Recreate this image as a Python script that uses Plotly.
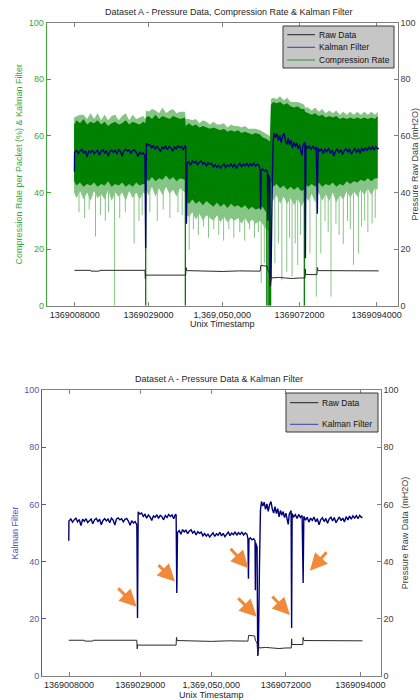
import numpy as np
import plotly.graph_objects as go

# ---------------- data (time in kiloseconds after T0) ----------------
T0 = 1369000000

kal_t = [7.9, 7.95,
         8.5, 9.0, 9.5, 10.0, 10.5, 11.0, 11.5, 12.0, 12.5, 13.0, 13.5, 14.0, 14.5, 15.0, 15.5, 16.0, 16.5, 17.0, 17.5, 18.0,
         18.5, 19.0, 19.5, 20.0, 20.5, 21.0, 21.5, 22.0, 22.5, 23.0, 23.5, 24.0, 24.5, 25.0, 25.5, 26.0, 26.5, 27.0, 27.5, 28.0,
         28.2,
         28.4, 28.9, 29.4, 29.9, 30.4, 30.9, 31.4, 31.9, 32.4, 32.9, 33.4, 33.9, 34.4, 34.9, 35.4, 35.9, 36.4, 36.9, 37.4, 37.9,
         38.4, 38.9, 39.4, 39.6,
         39.8,
         40.0, 40.5, 41.0, 41.5, 42.0, 42.5, 43.0, 43.5, 44.0, 44.5, 45.0, 45.5, 46.0, 46.5, 47.0, 47.5, 48.0, 48.5, 49.0, 49.5,
         50.0, 50.5, 51.0, 51.5, 52.0, 52.5, 53.0, 53.5, 54.0, 54.5, 55.0, 55.5, 56.0, 56.5, 57.0, 57.5, 58.0, 58.5, 59.0, 59.5,
         60.0, 60.5,
         60.8, 60.95, 61.1, 61.5, 62.0, 62.5, 62.9, 63.0, 63.1, 63.5, 63.7, 63.9, 64.2, 64.5, 64.8,
         65.2, 65.6, 66.0, 66.4, 66.8, 67.2, 67.6, 68.0, 68.4, 68.8, 69.2, 69.6, 70.0, 70.4, 70.8, 71.2, 71.6, 72.0, 72.4, 72.7,
         73.0, 73.3, 73.55, 73.7,
         73.85, 74.3, 74.8, 75.3, 75.8, 76.3, 76.8, 77.1, 77.3, 77.8, 78.3, 78.8, 79.3, 79.8, 80.3, 80.8, 81.3, 81.8, 82.3, 82.8,
         83.3, 83.8, 84.3, 84.8, 85.3, 85.8, 86.3, 86.8, 87.3, 87.8, 88.3, 88.8, 89.3, 89.8, 90.3, 90.8, 91.3, 91.8, 92.3, 92.8,
         93.3, 93.8, 94.3, 94.6]
kal_v = [47.3, 54.2,
         54.9, 53.8, 54.6, 55.2, 53.9, 54.7, 52.6, 54.8, 54.1, 55.0, 53.7, 54.5, 54.9, 53.2, 54.6, 55.1, 54.0, 54.8, 52.9, 54.4,
         55.0, 54.2, 54.9, 53.6, 55.2, 54.5, 52.8, 54.9, 55.3, 54.6, 55.0, 53.9, 54.8, 55.1, 54.2, 52.7, 54.3, 53.5, 54.0, 52.8,
         20.3,
         57.4, 56.6, 57.0, 55.8, 56.5, 55.2, 56.3, 55.6, 54.4, 56.0, 55.5, 56.4, 55.1, 56.2, 55.7, 54.6, 56.1, 55.4, 56.5, 55.8,
         56.3, 55.0, 56.6, 56.2,
         29.0,
         50.2, 50.9, 49.6, 51.2, 50.4, 51.0, 49.8, 50.7, 51.1, 50.0, 50.6, 49.3, 50.5, 49.9, 50.3, 49.0, 49.8, 48.9, 49.6, 48.6,
         49.4, 50.1, 48.8, 49.7, 49.2, 50.2, 49.0, 49.9, 48.7, 49.6, 50.3, 49.1, 50.0, 49.4, 50.4, 49.2, 50.1, 49.5, 50.3, 49.3,
         50.0, 49.6,
         48.0, 34.0, 47.8, 48.3, 47.6, 48.0, 47.2, 30.0, 46.5, 45.0, 7.0, 9.5, 38.0, 58.0, 61.0,
         59.4, 60.8, 58.3, 60.2, 57.6, 59.9, 61.0, 58.4, 57.0, 59.2, 56.8, 58.5, 55.6, 57.9, 56.2, 57.5, 55.4, 56.9, 54.8, 53.0,
         56.6, 57.4, 57.8, 16.8,
         56.8, 55.6, 56.4, 55.1, 56.5, 55.4, 56.1, 32.5, 55.8, 54.5, 55.5, 53.8, 55.2, 54.4, 55.6, 53.9, 55.0, 52.9, 54.7, 55.3,
         54.0, 55.1, 53.4, 54.9, 55.5, 54.2, 55.4, 53.6, 54.8, 55.6, 54.3, 55.2, 53.9, 55.7, 54.6, 55.9, 54.8, 56.0, 55.2, 56.1,
         55.0, 56.2, 55.4, 55.7]

raw_t = [7.9, 12.5, 12.6, 15.0, 15.1, 28.0, 28.1, 28.25, 28.4, 39.6, 39.7, 39.9, 45.0, 50.0, 55.0, 60.8, 61.0,
         62.8, 63.0, 63.5, 63.7, 63.9, 64.2, 66.0, 68.0, 70.0, 72.0, 73.6, 73.7, 73.8, 77.0, 77.1, 77.3, 94.6]
raw_v = [12.5, 12.5, 12.2, 12.2, 12.5, 12.5, 9.5, 11.0, 10.8, 10.8, 13.5, 12.4, 12.3, 12.1, 12.3, 12.2, 14.2,
         14.0, 12.5, 11.5, 7.4, 10.5, 9.8, 10.0, 9.8, 9.6, 9.8, 9.8, 13.0, 11.0, 11.0, 13.5, 12.4, 12.3]

# compression rate: dense band (lo/hi) and a thin outer envelope
comp_t = [7.8, 8.5, 9.5, 10.5, 11.5, 12.5, 13.5, 14.5, 15.5, 16.5, 17.5, 18.5, 19.5, 20.5, 21.5, 22.5, 23.5, 24.5,
          25.5, 26.5, 27.5, 28.1,
          28.3, 29.0, 30.0, 31.0, 32.0, 33.0, 34.0, 35.0, 36.0, 37.0, 38.0, 39.4,
          39.6, 40.5, 41.5, 42.5, 43.5, 44.5, 45.5, 46.5, 47.5, 48.5, 49.5, 50.5, 51.5, 52.5, 53.5, 54.5, 55.5, 56.5,
          57.5, 58.5, 59.5, 60.8,
          61.5, 62.5, 63.6,
          63.9, 64.5, 65.5, 66.5, 67.5, 68.5, 69.5, 70.5, 71.5, 72.5, 73.4,
          73.6, 74.5, 75.5, 76.5, 77.5, 78.5, 79.5, 80.5, 81.5, 82.5, 83.5, 84.5, 85.5, 86.5, 87.5, 88.5, 89.5, 90.5,
          91.5, 92.5, 93.5, 94.3]
comp_lo = [44, 42.5, 43.5, 42, 43, 42.5, 43.5, 42, 43, 42.5, 44, 42, 43, 42.5, 43.5, 42, 43, 42,
           43.5, 42.5, 43, 43,
           45, 44, 45.5, 44, 45, 44.5, 46, 44.5, 45.5, 44, 45, 44.5,
           37, 36, 37.5, 36, 37, 35.5, 37, 36, 35, 36.5, 35, 36, 34.5, 36, 35, 35.5, 34.5, 35.5,
           34, 35, 34, 34.5,
           35, 33, 32,
           44, 42, 43, 41.5, 42.5, 41, 42, 41, 42, 40.5, 41,
           43, 42, 43, 42, 43.5, 42, 43, 42.5, 43.5, 42, 43, 42.5, 44, 43, 44, 43.5, 44.5, 44,
           45, 44, 45, 45]
comp_hi = [64, 65.5, 64.5, 66, 64, 65, 64.5, 65.5, 64, 65, 63.5, 64.5, 65, 64, 64.5, 65.5, 64, 65,
           64.5, 64, 65, 64.5,
           66.5, 67, 66, 67.5, 66, 67, 66.5, 66, 67, 66.5, 66, 66.5,
           63.5, 64.5, 63.5, 64, 63, 63.5, 63, 62.5, 63, 62.5, 62, 62.5, 61.5, 62, 61.5, 62, 61, 61.5,
           61, 60.5, 61, 60.5,
           59.5, 59, 58,
           71, 72, 71.5, 72, 71, 71.5, 70.5, 70, 70.5, 69.5, 69.5,
           68.5, 68, 67.5, 68, 67, 67.5, 66.5, 67, 66.5, 67, 66, 66.5, 66, 66.5, 66, 66.5, 66, 66.5,
           66, 66.5, 66, 67]
comp_lo_out = [40, 38, 40.5, 37.5, 40, 37, 40.5, 38, 39.5, 37.5, 41, 37, 40, 38.5, 40, 37, 40.5, 38,
               40, 37.5, 40, 39.5,
               41, 39, 42, 38.5, 41.5, 39, 42, 39.5, 41, 38.5, 41.5, 40,
               32, 31.5, 33, 30.5, 32.5, 30, 32, 31, 30, 32, 29.5, 31.5, 29.5, 31, 30, 31, 29, 31,
               29, 30.5, 29, 30,
               29, 27, 26,
               40, 37, 39, 36, 38.5, 36, 38, 35.5, 38, 35, 37,
               39, 37, 39.5, 36.5, 40, 37, 39.5, 37, 40, 36.5, 39, 37.5, 40.5, 38, 40.5, 38.5, 41, 39,
               41.5, 39, 41.5, 41]
comp_hi_out = [66.5, 67, 67.5, 67.5, 66, 68, 66, 68, 65.5, 67.5, 65.5, 67, 67.5, 65.5, 67, 68, 65.5, 67.5,
               66, 66.5, 67, 66,
               69, 68.5, 69.5, 69, 68, 70, 68, 69, 69.5, 68, 68.5, 68.5,
               66, 66, 65.5, 66, 64.5, 65.5, 65, 64, 65, 64, 64, 64.5, 63, 64, 63.5, 63.5, 63, 63.5,
               62.5, 62.5, 62.5, 62,
               61.5, 60.5, 60,
               73, 73.5, 73, 74, 72.5, 73.5, 72, 72, 72, 71.5, 71,
               70, 70, 69, 70, 68.5, 69.5, 68, 69, 68, 69, 67.5, 68.5, 67.5, 68.5, 67.5, 68.5, 67.5, 68.5,
               67.5, 68.5, 67.5, 68.5]

# individual downward excursions of the compression rate
spike_t = [9.2, 10.8, 12.1, 13.9, 15.3, 16.7, 17.6, 19.3, 20.8, 22.4, 24.9, 26.3, 27.2,
           29.4, 31.5, 33.2, 35.1, 37.4, 38.6,
           40.6, 41.8, 43.2, 44.7, 46.1, 47.6, 49.0, 50.4, 51.9, 53.3, 55.0, 56.4, 57.8, 59.2, 60.3,
           61.1, 62.0,
           65.0, 66.0, 67.0, 68.4, 69.2, 69.9, 70.8, 71.5, 72.3,
           75.0, 76.8, 78.1, 79.3, 80.2, 81.0, 82.4, 83.3, 84.5, 85.7, 86.5, 87.4, 88.8, 89.7, 90.6,
           91.5, 92.7, 93.6]
spike_min = [33, 31, 34, 24.4, 32, 30, 33, 0, 31, 33, 22, 30, 32,
             33, 30, 34, 31, 33, 32,
             19.7, 27, 25, 28, 24, 27, 25, 23, 27, 24, 26, 23, 27, 24, 26,
             8, 15,
             15, 22, 9, 12, 24, 10.3, 22, 14.4, 25,
             18.5, 3.2, 18.5, 30, 26, 3.2, 29, 25, 21.8, 30, 27, 14.4, 18.5, 28, 30,
             26, 29, 31]
drop_t = [28.2, 39.5, 62.7, 63.1, 63.5, 63.8, 73.4]
drop_min = [0, 0, 0, 0, 0, 0, 0]

x_ticks = [1369008000, 1369029000, 1369050000, 1369072000, 1369094000]
x_tick_text = ["1369008000", "1369029000", "1,369,050,000", "1369072000", "1369094000"]
y_ticks = [0, 20, 40, 60, 80, 100]

# arrows marking the filter dips (head position, tail offset in px)
arrow_t = [27.96, 39.27, 60.9, 63.4, 73.2, 79.1]
arrow_v = [24.2, 33.0, 37.7, 20.7, 21.3, 36.8]
arrow_dx = [-20, -18, -19, -20, -19, 18]
arrow_dy = [-20, -18, -21, -20, -20, -20]

legend_top_names = ["Raw Data", "Kalman Filter", "Compression Rate"]
legend_bot_names = ["Raw Data", "Kalman Filter"]

# ---------------- figure ----------------
def ts(k):
    return T0 + np.asarray(k, dtype=float) * 1000.0

FONT = "Liberation Sans, Arial, Helvetica, sans-serif"
W, H = 420, 700
GREEN_DARK = "#008000"
GREEN_LIGHT = "#86c586"
GREEN_AX = "#3aa83a"
NAVY = "#00007a"
BLUE_AX = "#5656b0"
RAW = "#2a2a2a"
GRAY_AX = "#808080"
TXT = "#262626"

def PX(x):
    return x / W

def PY(y):
    return 1 - y / H

fig = go.Figure()

ct = ts(comp_t)
hi_o, lo_o = np.array(comp_hi_out), np.array(comp_lo_out)
hi_i, lo_i = np.array(comp_hi), np.array(comp_lo)

fig.add_trace(go.Scatter(x=np.concatenate([ct, ct[::-1]]), y=np.concatenate([hi_o, lo_o[::-1]]),
                         fill="toself", fillcolor=GREEN_LIGHT, line=dict(width=0), mode="lines",
                         hoverinfo="skip", showlegend=False, xaxis="x", yaxis="y"))
sx, sy = [], []
for t, m in zip(spike_t, spike_min):
    sx += [ts(t), ts(t), None]
    sy += [50, m, None]
fig.add_trace(go.Scatter(x=sx, y=sy, mode="lines", line=dict(color=GREEN_LIGHT, width=1),
                         hoverinfo="skip", showlegend=False, xaxis="x", yaxis="y"))
fig.add_trace(go.Scatter(x=np.concatenate([ct, ct[::-1]]), y=np.concatenate([hi_i, lo_i[::-1]]),
                         fill="toself", fillcolor=GREEN_DARK, line=dict(width=0), mode="lines",
                         hoverinfo="skip", showlegend=False, xaxis="x", yaxis="y"))
dx, dy = [], []
for t, m in zip(drop_t, drop_min):
    dx += [ts(t), ts(t), None]
    dy += [50, m, None]
fig.add_trace(go.Scatter(x=dx, y=dy, mode="lines", line=dict(color=GREEN_DARK, width=1.3),
                         name="Compression Rate", showlegend=False, xaxis="x", yaxis="y"))
fig.add_trace(go.Scatter(x=ts(kal_t), y=kal_v, mode="lines", line=dict(color=NAVY, width=1.4),
                         name="Kalman Filter", showlegend=False, xaxis="x", yaxis="y"))
fig.add_trace(go.Scatter(x=ts(raw_t), y=raw_v, mode="lines", line=dict(color=RAW, width=1),
                         name="Raw Data", showlegend=False, xaxis="x", yaxis="y2"))

# bottom chart
fig.add_trace(go.Scatter(x=ts(kal_t), y=kal_v, mode="lines", line=dict(color=NAVY, width=1.4),
                         name="Kalman Filter", showlegend=False, xaxis="x2", yaxis="y3"))
fig.add_trace(go.Scatter(x=ts(raw_t), y=raw_v, mode="lines", line=dict(color=RAW, width=1),
                         name="Raw Data", showlegend=False, xaxis="x2", yaxis="y4"))

tickfont = dict(family=FONT, size=9, color=TXT)

def xax(domain, anchor):
    return dict(domain=domain, anchor=anchor, range=[T0, T0 + 100000], tickmode="array",
                tickvals=x_ticks, ticktext=x_tick_text, ticks="inside", ticklen=4, tickcolor=GRAY_AX,
                showline=True, linecolor=GRAY_AX, linewidth=1, mirror="ticks", showgrid=False,
                zeroline=False, tickfont=tickfont, automargin=False,
                title=dict(text="Unix Timestamp", font=dict(family=FONT, size=9, color=TXT), standoff=2))

def yleft(domain, anchor, color, title):
    return dict(domain=domain, anchor=anchor, range=[0, 100], tickmode="array", tickvals=y_ticks,
                ticks="inside", ticklen=4, tickcolor=color, showline=True, linecolor=color, linewidth=1,
                showgrid=False, zeroline=False, tickfont=dict(family=FONT, size=9, color=color),
                automargin=False, title=dict(text=title, font=dict(family=FONT, size=9, color=color), standoff=4))

def yright(over, anchor):
    return dict(overlaying=over, anchor=anchor, side="right", range=[0, 100], tickmode="array",
                tickvals=y_ticks, ticks="inside", ticklen=4, tickcolor=GRAY_AX, showline=True,
                linecolor=GRAY_AX, linewidth=1, showgrid=False, zeroline=False,
                tickfont=dict(family=FONT, size=9, color="#404040"), automargin=False,
                title=dict(text="Pressure Raw Data (mH2O)", font=dict(family=FONT, size=9, color="#404040"),
                           standoff=4))

top_x = [PX(46.7), PX(397.7)]
top_y = [PY(305.7), PY(22.7)]
bot_x = [PX(42.0), PX(380.7)]
bot_y = [PY(676.0), PY(390.0)]

annotations = [
    dict(text="Dataset A - Pressure Data, Compression Rate & Kalman Filter", x=PX(228.7), y=PY(11.7),
         xref="paper", yref="paper", showarrow=False, font=dict(family=FONT, size=9, color=TXT),
         xanchor="center", yanchor="middle"),
    dict(text="Dataset A - Pressure Data & Kalman Filter", x=PX(219), y=PY(379.3),
         xref="paper", yref="paper", showarrow=False, font=dict(family=FONT, size=9, color=TXT),
         xanchor="center", yanchor="middle"),
]
for t, v, ax, ay in zip(arrow_t, arrow_v, arrow_dx, arrow_dy):
    annotations.append(dict(x=ts(t), y=v, xref="x2", yref="y3", ax=ax, ay=ay, text="", showarrow=True,
                            arrowhead=2, arrowsize=1.15, arrowwidth=3, arrowcolor="#f0893a", standoff=0))

# hand-drawn legend boxes (MATLAB style)
shapes = []
def legend_box(x0, y0, x1, y1, names, colors, rows_y, line_x0, line_x1, text_x):
    shapes.append(dict(type="rect", xref="paper", yref="paper", x0=PX(x0), x1=PX(x1), y0=PY(y1), y1=PY(y0),
                       fillcolor="#c6c6c6", line=dict(color="#3a3a3a", width=1), layer="above"))
    for name, col, yy in zip(names, colors, rows_y):
        shapes.append(dict(type="line", xref="paper", yref="paper", x0=PX(line_x0), x1=PX(line_x1),
                           y0=PY(yy), y1=PY(yy), line=dict(color=col, width=1), layer="above"))
        annotations.append(dict(text=name, x=PX(text_x), y=PY(yy), xref="paper", yref="paper",
                                showarrow=False, xanchor="left", yanchor="middle",
                                font=dict(family=FONT, size=8.5, color="#111")))

legend_box(283, 26, 394, 68, legend_top_names, ["#222222", "#3c3cae", "#2a9a2a"],
           [34.7, 47.3, 60.0], 287.3, 315.0, 316.5)
legend_box(286, 393, 378, 432, legend_bot_names, ["#222222", "#3c3cae"],
           [402.7, 424.3], 290.0, 318.3, 319.8)

fig.update_layout(
    width=W, height=H, margin=dict(l=0, r=0, t=0, b=0),
    paper_bgcolor="white", plot_bgcolor="white",
    font=dict(family=FONT, size=9, color=TXT),
    xaxis=xax(top_x, "y"),
    yaxis=yleft(top_y, "x", GREEN_AX, "Compression Rate per Packet (%) & Kalman Filter"),
    yaxis2=yright("y", "x"),
    xaxis2=xax(bot_x, "y3"),
    yaxis3=yleft(bot_y, "x2", BLUE_AX, "Kalman Filter"),
    yaxis4=yright("y3", "x2"),
    annotations=annotations,
    shapes=shapes,
    showlegend=False,
)

fig.write_html("out.html", config={"displayModeBar": False},
               post_script="document.body.style.margin='0';document.body.style.overflow='hidden';")
